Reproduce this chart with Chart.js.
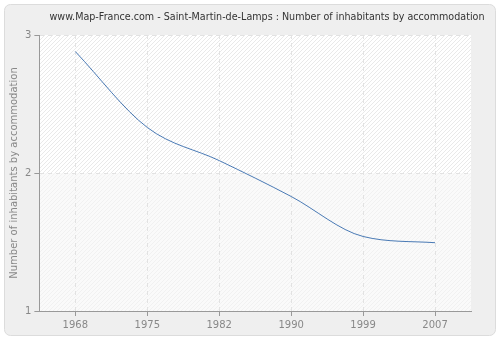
<!DOCTYPE html>
<html>
<head>
<meta charset="utf-8">
<script src="https://cdn.jsdelivr.net/npm/chart.js@4/dist/chart.umd.min.js"></script>
<style>
    html, body { margin: 0; padding: 0; background: #fff; }
    #wrap { width: 500px; height: 340px; }
</style>
</head>
<body>
<div id="wrap"><canvas id="chart" width="500" height="340"></canvas></div>
<script>
const years = ["1968", "1975", "1982", "1990", "1999", "2007"];
const inhabitantsPerHome = [2.88, 2.33, 2.09, 1.83, 1.54, 1.495];
const yTicks = [1, 2, 3];

const titleText = "www.Map-France.com - Saint-Martin-de-Lamps : Number of inhabitants by accommodation";
const yTitle = "Number of inhabitants by accommodation";

function makeHatch(bg, line) {
    const c = document.createElement("canvas");
    c.width = 4;
    c.height = 4;
    const g = c.getContext("2d");
    g.fillStyle = bg;
    g.fillRect(0, 0, 4, 4);
    g.fillStyle = line;
    // one pixel diagonal "/" per tile
    g.fillRect(3, 0, 1, 1);
    g.fillRect(2, 1, 1, 1);
    g.fillRect(1, 2, 1, 1);
    g.fillRect(0, 3, 1, 1);
    return c;
}

const panelBackground = {
    id: "panelBackground",
    beforeDraw(chart) {
        const { ctx, chartArea } = chart;
        const w = chartArea.right - chartArea.left;
        const y2 = chart.scales.y.getPixelForValue(2);
        ctx.save();
        ctx.fillStyle = "#ffffff";
        ctx.fillRect(0, 0, chart.width, chart.height);
        ctx.fillStyle = "#efefef";
        ctx.strokeStyle = "#dcdcdc";
        ctx.beginPath();
        ctx.roundRect(4.5, 4.5, chart.width - 9, chart.height - 9, 6);
        ctx.fill();
        ctx.stroke();
        ctx.fillStyle = ctx.createPattern(makeHatch("#ffffff", "#e9e9e9"), "repeat");
        ctx.fillRect(chartArea.left, chartArea.top, w, y2 - chartArea.top);
        ctx.fillStyle = ctx.createPattern(makeHatch("#fafafa", "#f1f1f1"), "repeat");
        ctx.fillRect(chartArea.left, y2, w, chartArea.bottom - y2);

        // title, squeezed to the width it has in the original
        ctx.fillStyle = "#333";
        ctx.font = "11px 'DejaVu Sans', sans-serif";
        ctx.textAlign = "center";
        ctx.textBaseline = "middle";
        const textWidth = ctx.measureText(titleText).width;
        ctx.translate(267, 17);
        ctx.scale(435 / textWidth, 1);
        ctx.fillText(titleText, 0, 0);
        ctx.restore();
    },
};

new Chart(document.getElementById("chart"), {
    type: "line",
    data: {
        labels: years,
        datasets: [
            {
                data: inhabitantsPerHome,
                borderColor: "#4a7ab5",
                borderWidth: 1,
                pointRadius: 0,
                fill: false,
                cubicInterpolationMode: "monotone",
            },
        ],
    },
    options: {
        responsive: false,
        animation: false,
        layout: {
            padding: { top: 35, right: 29, bottom: 6, left: 8 },
        },
        plugins: {
            legend: { display: false },
            tooltip: { enabled: false },
            title: { display: false },
        },
        scales: {
            x: {
                offset: true,
                grid: {
                    offset: false,
                    color: "#e2e2e2",
                    tickColor: "#999",
                    tickLength: 5,
                },
                border: { color: "#999", dash: [4, 4] },
                ticks: {
                    color: "#888",
                    font: { family: "'DejaVu Sans', sans-serif", size: 10 },
                    padding: 3,
                    maxRotation: 0,
                },
            },
            y: {
                min: 1,
                max: 3,
                afterBuildTicks(axis) {
                    axis.ticks = yTicks.map((v) => ({ value: v }));
                },
                grid: {
                    color: "#e2e2e2",
                    tickColor: "#999",
                    tickLength: 5,
                },
                border: { color: "#999", dash: [4, 4] },
                ticks: {
                    color: "#888",
                    font: { family: "'DejaVu Sans', sans-serif", size: 10 },
                    padding: 3,
                },
                title: {
                    display: true,
                    text: yTitle,
                    color: "#888",
                    font: { family: "'DejaVu Sans', sans-serif", size: 10 },
                    padding: { top: 0, bottom: 2 },
                },
            },
        },
    },
    plugins: [panelBackground],
});
</script>
</body>
</html>
